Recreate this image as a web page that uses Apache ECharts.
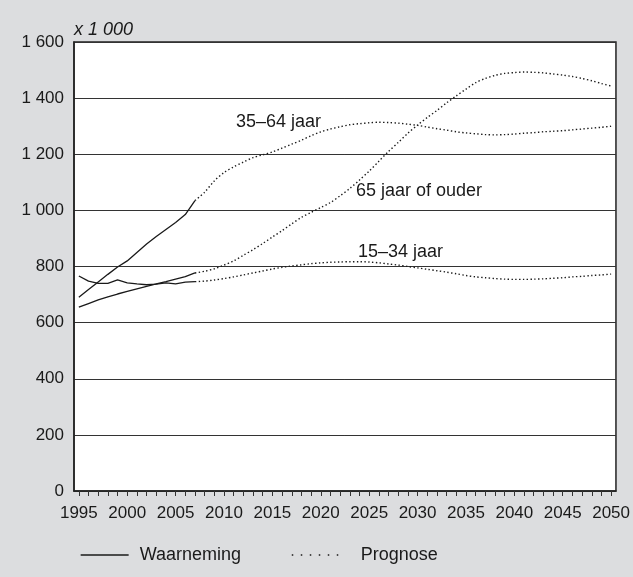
<!DOCTYPE html>
<html>
<head>
<meta charset="utf-8">
<script src="https://cdn.jsdelivr.net/npm/echarts@6/dist/echarts.min.js"></script>
<style>
html,body{margin:0;padding:0;background:#dcdddf;}
#chart{width:633px;height:577px;}
</style>
</head>
<body>
<div id="chart"></div>
<script>
// Categories (years on the x axis)
const years = [1995,1996,1997,1998,1999,2000,2001,2002,2003,2004,2005,2006,2007,2008,2009,2010,
  2011,2012,2013,2014,2015,2016,2017,2018,2019,2020,2021,2022,2023,2024,2025,2026,2027,2028,2029,2030,
  2031,2032,2033,2034,2035,2036,2037,2038,2039,2040,2041,2042,2043,2044,2045,2046,2047,2048,2049,2050];

// Observed (Waarneming) 1995-2007, x 1 000
const obsYears = [1995,1996,1997,1998,1999,2000,2001,2002,2003,2004,2005,2006,2007];
const obs15_34 = [766,748,740,740,752,742,738,735,737,742,738,744,746];
const obs35_64 = [690,718,745,772,798,820,850,880,907,932,957,985,1035];
const obs65plus = [655,668,681,692,702,711,720,729,738,746,755,764,777];

// Projection (Prognose) 2007-2050, x 1 000
const progYears = [2007,2008,2009,2010,2011,2012,2013,2014,2015,2016,2017,2018,2019,2020,2021,2022,
  2023,2024,2025,2026,2027,2028,2029,2030,2031,2032,2033,2034,2035,2036,2037,2038,2039,2040,2041,2042,
  2043,2044,2045,2046,2047,2048,2049,2050];
const prog15_34 = [746,748,752,757,763,770,777,784,791,797,802,806,810,813,815,816,817,817,816,813,
  809,805,800,795,790,785,780,774,768,763,760,757,755,754,754,755,756,758,760,763,765,768,770,773];
const prog35_64 = [1035,1065,1105,1135,1155,1172,1188,1198,1208,1222,1236,1250,1266,1280,1290,1298,
  1305,1309,1312,1314,1313,1311,1307,1303,1297,1291,1286,1280,1276,1273,1270,1269,1270,1272,1275,1277,
  1280,1282,1284,1287,1290,1293,1296,1300];
const prog65plus = [777,783,792,805,820,840,860,882,905,928,952,975,993,1010,1028,1052,1078,1108,1140,
  1175,1210,1242,1275,1304,1331,1356,1383,1408,1432,1455,1470,1481,1488,1491,1493,1492,1490,1486,1482,
  1477,1470,1462,1452,1443];

const yTicks = [0,200,400,600,800,1000,1200,1400,1600];
const seriesLabels = ['35\u201364 jaar','65 jaar of ouder','15\u201334 jaar'];
const legendNames = ['Waarneming','Prognose'];

function align(srcYears, vals){
  const m = {};
  srcYears.forEach((y,i)=>{ m[y]=vals[i]; });
  return years.map(y => (y in m) ? m[y] : null);
}

const FONT = '"Liberation Sans", Arial, Helvetica, sans-serif';
const solid = {color:'#1a1a1a', width:1.3, type:'solid'};
const dotted = {color:'#1a1a1a', width:1.4, type:[1.4,2.4], cap:'butt'};

function obsSeries(vals){
  return {name:legendNames[0], type:'line', data:align(obsYears, vals), symbol:'none',
    lineStyle:solid, itemStyle:{color:'#1a1a1a'}, connectNulls:false, silent:true, animation:false};
}
function progSeries(vals){
  return {name:legendNames[1], type:'line', data:align(progYears, vals), symbol:'none', smooth:0.3,
    lineStyle:dotted, itemStyle:{color:'#1a1a1a'}, connectNulls:false, silent:true, animation:false};
}

const chart = echarts.init(document.getElementById('chart'), null, {renderer:'canvas'});
chart.setOption({
  backgroundColor:'#dcdddf',
  animation:false,
  textStyle:{fontFamily:FONT},
  grid:{left:74, top:42, right:14, bottom:86, show:true, backgroundColor:'#ffffff',
    borderColor:'#222', borderWidth:1.5, containLabel:false},
  xAxis:{
    type:'category', data:years.map(String), boundaryGap:true,
    axisLine:{show:true, lineStyle:{color:'#222', width:1.5}},
    axisTick:{show:true, interval:0, alignWithLabel:true, length:5, lineStyle:{color:'#333', width:1}},
    axisLabel:{interval:4, fontSize:17, color:'#1a1a1a', margin:14, fontFamily:FONT},
    splitLine:{show:false}
  },
  yAxis:{
    type:'value', min:0, max:1600, interval:200,
    name:'x 1 000', nameLocation:'end', nameGap:3,
    nameTextStyle:{fontStyle:'italic', fontSize:18, color:'#1a1a1a', align:'left', fontFamily:FONT},
    axisLine:{show:true, lineStyle:{color:'#222', width:1.5}},
    axisTick:{show:false},
    axisLabel:{fontSize:17, color:'#1a1a1a', margin:10, fontFamily:FONT,
      formatter:v => yTicks.indexOf(v) >= 0 ? String(v).replace(/\B(?=(\d{3})+(?!\d))/g,' ') : ''},
    splitLine:{show:true, lineStyle:{color:'#333', width:1}}
  },
  legend:{
    left:80, top:546, padding:0, itemWidth:48, itemHeight:14, itemGap:50,
    textStyle:{fontSize:18, color:'#1a1a1a', fontFamily:FONT},
    itemStyle:{opacity:0},
    data:[
      {name:legendNames[0], itemStyle:{opacity:0},
        lineStyle:{color:'#1a1a1a', width:1.3, type:'solid', opacity:1},
        textStyle:{padding:[0,0,0,6]}},
      {name:legendNames[1], itemStyle:{opacity:0},
        lineStyle:{color:'#1a1a1a', width:1.5, type:[1.5,7.5], opacity:1},
        textStyle:{padding:[0,0,0,16]}}
    ],
    selectedMode:false
  },
  graphic:[
    {type:'text', left:236, top:113, silent:true,
      style:{text:seriesLabels[0], fill:'#1a1a1a', font:'18px ' + FONT}},
    {type:'text', left:356, top:182, silent:true,
      style:{text:seriesLabels[1], fill:'#1a1a1a', font:'18px ' + FONT}},
    {type:'text', left:358, top:243, silent:true,
      style:{text:seriesLabels[2], fill:'#1a1a1a', font:'18px ' + FONT}}
  ],
  series:[
    obsSeries(obs35_64), obsSeries(obs65plus), obsSeries(obs15_34),
    progSeries(prog35_64), progSeries(prog65plus), progSeries(prog15_34)
  ]
});
</script>
</body>
</html>
